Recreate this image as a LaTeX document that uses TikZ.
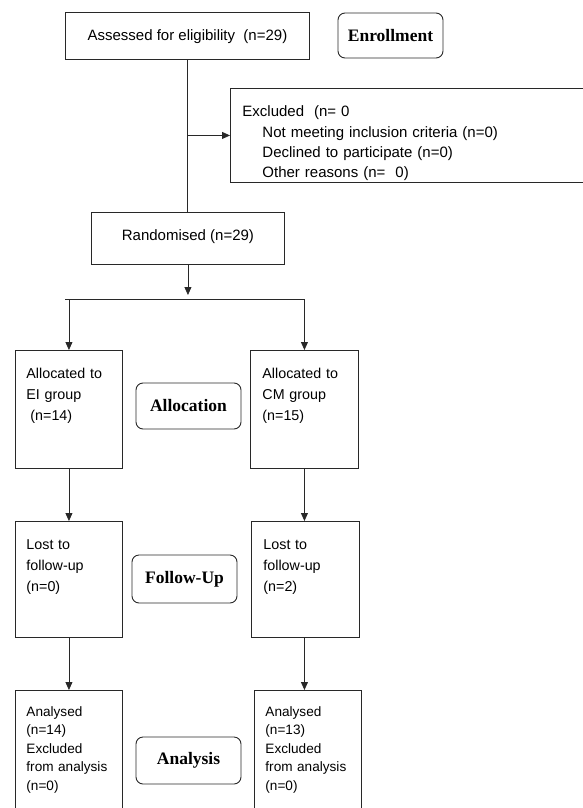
\documentclass[tikz,border=0pt]{standalone}
\usepackage{fontspec}
\setmainfont{Liberation Sans}
\newfontfamily\labelfont{Liberation Serif}
\usetikzlibrary{arrows.meta}
\definecolor{linecol}{RGB}{40,40,40}
\begin{document}
\begin{tikzpicture}[x=1pt,y=-1pt,
  box/.style={draw=linecol, line width=0.9pt, rectangle, inner ysep=0pt, anchor=north west, align=left},
  cbox/.style={draw=linecol, line width=0.9pt, rectangle, inner ysep=0pt, inner xsep=0pt, anchor=north west, font=\fontsize{15}{18}\selectfont},
  lbl/.style={draw=linecol, line width=0.9pt, rounded corners=7pt, minimum width=105pt, inner sep=0pt, font=\labelfont\bfseries\fontsize{17.5}{20}\selectfont},
  big/.style={font=\fontsize{14.3}{21}\selectfont},
  small/.style={font=\fontsize{13.6}{18.5}\selectfont},
  link/.style={draw=linecol, line width=0.8pt},
  arr/.style={link, -{Triangle[width=7pt,length=8pt]}}]
\useasboundingbox (0,0) rectangle (583,808);
\clip (0,0) rectangle (583,808);

% Enrollment
\node[cbox, minimum width=244pt, text height=28.4pt, text depth=18.6pt] (ass) at (65,12) {Assessed for eligibility~ (n=29)};
\node[lbl, minimum height=45pt] (enr) at (390.5,35.5) {Enrollment};
\node[box, inner xsep=12pt, text width=338pt, text height=28.5pt, text depth=65.5pt,
      font=\fontsize{15}{20.3}\selectfont] (exc) at (230,88)
  {Excluded~ (n= 0\\
   \hspace*{20pt}Not meeting inclusion criteria (n=0)\\
   \hspace*{20pt}Declined to participate (n=0)\\
   \hspace*{20pt}Other reasons (n=~ 0)};
\node[cbox, minimum width=193pt, text height=28.4pt, text depth=23.6pt] (ran) at (91,212) {Randomised (n=29)};

% Allocation
\node[box, big, inner xsep=11pt, text width=85pt, text height=28pt, text depth=90pt] (eia) at (15,350)
  {Allocated to\\EI group\\\hspace*{4pt}(n=14)};
\node[box, big, inner xsep=12pt, text width=84pt, text height=28pt, text depth=90pt] (cma) at (250,350)
  {Allocated to\\CM group\\(n=15)};
\node[lbl, minimum height=46pt] (alc) at (188.5,406) {Allocation};

% Follow-up
\node[box, big, inner xsep=11pt, text width=85pt, text height=28pt, text depth=88pt] (eil) at (15,521)
  {Lost to\\follow-up\\(n=0)};
\node[box, big, inner xsep=12pt, text width=84pt, text height=28pt, text depth=88pt] (cml) at (251,521)
  {Lost to\\follow-up\\(n=2)};
\node[lbl, minimum height=48pt] (fol) at (184.5,579) {Follow-Up};

% Analysis
\node[box, small, inner xsep=11pt, text width=85pt, text height=26pt, text depth=104pt] (ein) at (15,690)
  {Analysed\\(n=14)\\Excluded\\from analysis\\(n=0)};
\node[box, small, inner xsep=11pt, text width=85pt, text height=26pt, text depth=104pt] (cmn) at (254,690)
  {Analysed\\(n=13)\\Excluded\\from analysis\\(n=0)};
\node[lbl, minimum height=47pt] (ana) at (188.5,760.5) {Analysis};

% connectors
\coordinate (br) at (ass.south |- exc.west);
\coordinate (hl) at (65,299);
\coordinate (hr) at (cma.north |- hl);
\coordinate (sp) at (ran.south |- hl);
\draw[link] (ass.south) -- (ass.south |- ran.north);
\draw[arr] (br) -- (exc.west);
\draw[arr, shorten >=4pt] (ran.south) -- (sp);
\draw[link] (hl) -- (hr);
\draw[arr] (eia.north |- hl) -- (eia.north);
\draw[arr] (hr) -- (cma.north);
\draw[arr] (eia.south) -- (eil.north);
\draw[arr] (cma.south) -- (cma.south |- cml.north);
\draw[arr] (eil.south) -- (ein.north);
\draw[arr] (cma.south |- cml.south) -- (cma.south |- cmn.north);
\end{tikzpicture}
\end{document}
